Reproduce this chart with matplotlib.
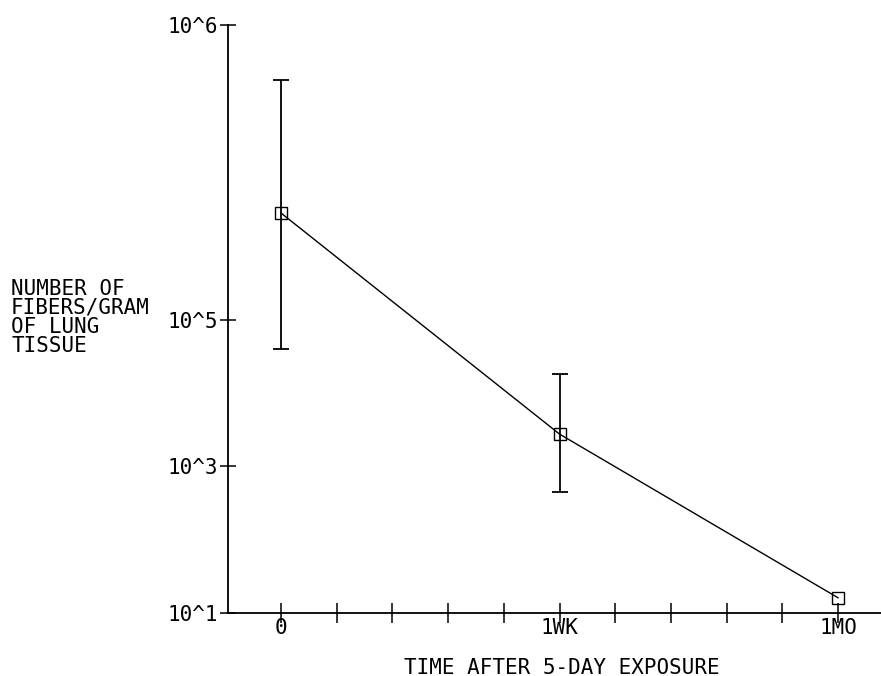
import numpy as np
import matplotlib
matplotlib.use("Agg")
import matplotlib.pyplot as plt

# ---- data ----
x_labels = ["0", "1WK", "1MO"]
x_label_pos = [0, 5, 10]
x_minor_pos = [0, 1, 2, 3, 4, 5, 6, 7, 8, 9, 10]
time_pos = [0, 5, 10]
fibers = [2.3e5, 2.74e3, 16]
err_low = [3.95e4, 4.4e2, 16]
err_high = [6.5e5, 1.8e4, 16]
y_tick_vals = [1e1, 1e3, 1e5, 1e6]
y_tick_labels = ["10^1", "10^3", "10^5", "10^6"]

# printed axis: evenly spaced 10^1, 10^3, 10^5, then a long stretch to 10^6
LOGS = [1, 3, 5, 6]
UNITS = [0, 2, 4, 8.02]


def fwd(y):
    y = np.asarray(y, dtype=float)
    ly = np.log10(np.clip(y, 1e-300, None))
    out = np.interp(ly, LOGS, UNITS)
    out = np.where(ly < LOGS[0], ly - LOGS[0], out)
    return out


def inv(u):
    u = np.asarray(u, dtype=float)
    lg = np.interp(u, UNITS, LOGS)
    lg = np.where(u < UNITS[0], u + LOGS[0], lg)
    return 10 ** lg


plt.rcParams["font.family"] = ["DejaVu Sans Mono"]
FS = 15

fig = plt.figure(figsize=(8.81, 6.76), dpi=100)
ax = fig.add_axes([228 / 881, 1 - 612.7 / 676, 1 - 228 / 881, (612.7 - 25) / 676])
ax.set_yscale("function", functions=(fwd, inv))

yerr_lo = [f - lo for f, lo in zip(fibers, err_low)]
yerr_hi = [hi - f for f, hi in zip(fibers, err_high)]
ax.errorbar(time_pos[:2], fibers[:2], yerr=[yerr_lo[:2], yerr_hi[:2]], fmt="none",
            ecolor="black", elinewidth=1.3, capsize=6, capthick=1.3)
ax.plot(time_pos, fibers, color="black", lw=1.0, marker="s", markersize=8,
        markerfacecolor="none", markeredgecolor="black", markeredgewidth=1.0)

ax.set_xlim((228 - 281) / 55.7, (881 - 281) / 55.7)
ax.set_ylim(1e1, 1e6)

ax.set_yticks(y_tick_vals)
ax.set_yticklabels(y_tick_labels, fontsize=FS)
ax.yaxis.set_minor_locator(matplotlib.ticker.NullLocator())
ax.set_xticks(x_minor_pos)
ax.set_xticklabels([x_labels[x_label_pos.index(p)] if p in x_label_pos else "" for p in x_minor_pos],
                   fontsize=FS)
ax.tick_params(axis="y", direction="inout", length=12, width=1.1, pad=1)
ax.tick_params(axis="x", direction="inout", length=14, width=1.1, pad=-3)

for s in ["top", "right"]:
    ax.spines[s].set_visible(False)
for s in ["left", "bottom"]:
    ax.spines[s].set_linewidth(1.3)

fig.text(11 / 881, 1 - 279 / 676, "NUMBER OF\nFIBERS/GRAM\nOF LUNG\nTISSUE",
         fontsize=FS, ha="left", va="top", linespacing=0.93)
fig.text(562 / 881, 1 - 667.5 / 676, "TIME AFTER 5-DAY EXPOSURE", fontsize=FS,
         ha="center", va="center")

fig.savefig("out.png", dpi=100)
